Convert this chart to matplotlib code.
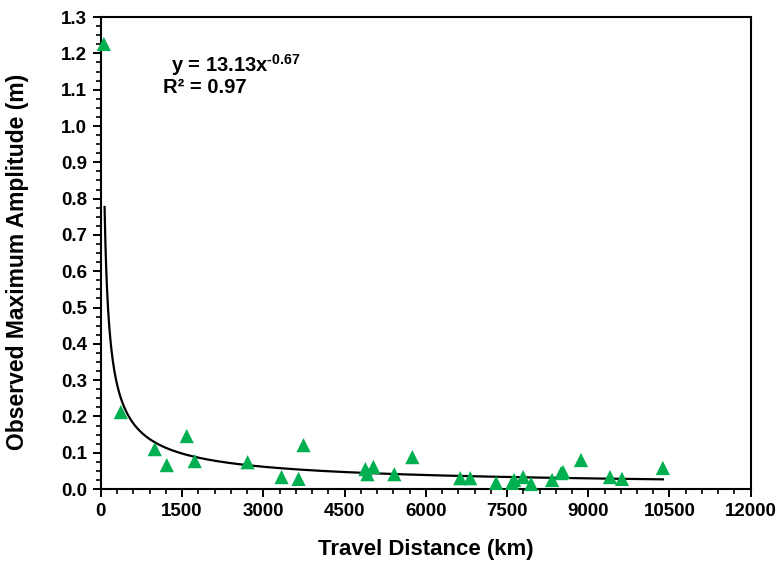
import numpy as np
import matplotlib.pyplot as plt
from matplotlib.ticker import MultipleLocator, FormatStrFormatter

plt.rcParams['font.family'] = ['Liberation Sans', 'DejaVu Sans']
plt.rcParams['mathtext.fontset'] = 'custom'
plt.rcParams['mathtext.rm'] = 'Liberation Sans:bold'
plt.rcParams['mathtext.bf'] = 'Liberation Sans:bold'

# travel distance (km) and observed maximum amplitude (m)
distance = [55, 369, 995, 1217, 1585, 1733, 2710, 3336, 3650, 3742,
            4885, 4922, 5032, 5419, 5751, 6636, 6820, 7299, 7594, 7631,
            7797, 7945, 8332, 8498, 8535, 8866, 9401, 9622, 10378]
amplitude = [1.226, 0.212, 0.110, 0.066, 0.146, 0.077, 0.074, 0.033, 0.028, 0.121,
             0.055, 0.041, 0.061, 0.041, 0.088, 0.030, 0.030, 0.017, 0.017, 0.025,
             0.033, 0.014, 0.025, 0.044, 0.047, 0.080, 0.033, 0.028, 0.058]

coef_a = 13.13
coef_b = -0.67

fig = plt.figure(figsize=(7.82, 5.70), dpi=100)
ax = fig.add_axes([0.129, 0.142, 0.831, 0.828])

# power-law trend line
xs = np.linspace(68, max(distance), 2000)
ax.plot(xs, coef_a * xs ** coef_b, color='black', lw=1.6, zorder=2)

ax.scatter(distance, amplitude, marker='^', s=105, color='#00B050',
           edgecolors='none', zorder=3, clip_on=False)

ax.set_xlim(0, 12000)
ax.set_ylim(0, 1.3)
ax.xaxis.set_major_locator(MultipleLocator(1500))
ax.xaxis.set_minor_locator(MultipleLocator(300))
ax.yaxis.set_major_locator(MultipleLocator(0.1))
ax.yaxis.set_minor_locator(MultipleLocator(0.025))
ax.yaxis.set_major_formatter(FormatStrFormatter('%.1f'))

ax.tick_params(which='major', direction='out', length=6, width=1.4,
               labelsize=13.5, pad=4)
ax.tick_params(which='minor', direction='out', length=3.5, width=1.2)
ax.tick_params(top=False, right=False, which='both')
for lab in ax.get_xticklabels() + ax.get_yticklabels():
    lab.set_fontweight('bold')
for sp in ax.spines.values():
    sp.set_linewidth(1.5)

ax.set_xlabel('Travel Distance (km)', fontsize=16, fontweight='bold', labelpad=14)
ax.set_ylabel('Observed Maximum Amplitude (m)', fontsize=16.5, fontweight='bold')
ax.yaxis.set_label_coords(-0.111, 0.481)

ax.text(1300, 1.15, r'y = 13.13x$^{\text{-0.67}}$', fontsize=14.5, fontweight='bold')
ax.text(1140, 1.09, 'R² = 0.97', fontsize=14.5, fontweight='bold')

fig.savefig('out.png', dpi=100)
